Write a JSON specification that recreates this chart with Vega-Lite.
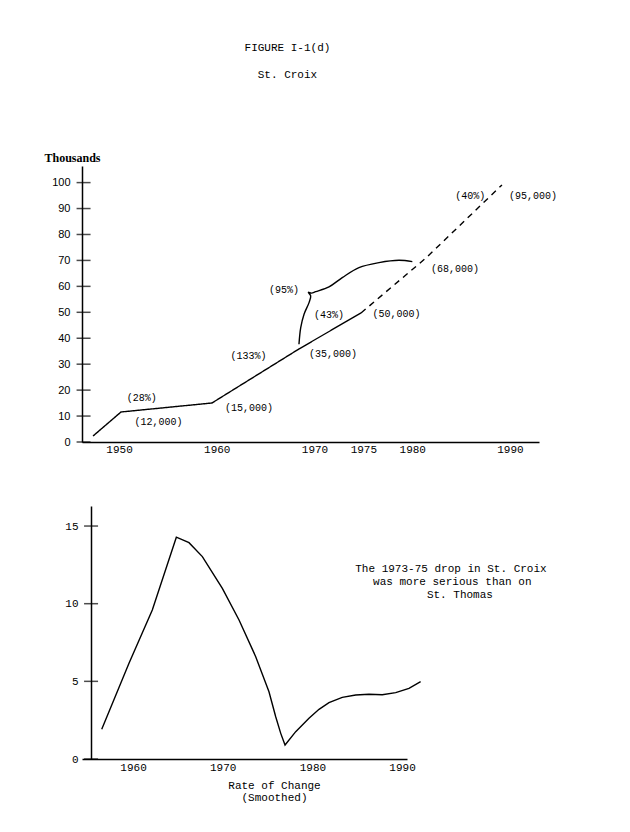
{
  "$schema": "https://vega.github.io/schema/vega-lite/v6.json",
  "background": "white",
  "padding": {"left": 43, "top": 42, "right": 5, "bottom": 5},
  "spacing": 52,
  "config": {"view": {"stroke": null}, "font": "Liberation Mono"},
  "title": {"text": "FIGURE I-1(d)", "subtitle": "St. Croix", "anchor": "middle", "font": "Liberation Mono", "fontSize": 11, "fontWeight": "normal", "color": "black", "subtitleFont": "Liberation Mono", "subtitleFontSize": 11, "subtitleColor": "black", "subtitlePadding": 16, "offset": 71, "dx": -13},
  "datasets": {
    "pop": [
      {"year": 1947.34, "value": 2.31, "seg": "solid"},
      {"year": 1950.2, "value": 11.57, "seg": "solid"},
      {"year": 1959.51, "value": 15.04, "seg": "solid"},
      {"year": 1968.41, "value": 35.87, "seg": "solid"},
      {"year": 1974.76, "value": 49.75, "seg": "solid"},
      {"year": 1974.76, "value": 49.75, "seg": "dashed"},
      {"year": 1981.41, "value": 70.96, "seg": "dashed"},
      {"year": 1989.18, "value": 99.11, "seg": "dashed"}
    ],
    "bracket": [
      {"order": 1, "year": 1968.41, "value": 37.68},
      {"order": 2, "year": 1968.59, "value": 44.08},
      {"order": 3, "year": 1968.93, "value": 49.25},
      {"order": 4, "year": 1969.44, "value": 53.72},
      {"order": 5, "year": 1969.61, "value": 56.31},
      {"order": 6, "year": 1969.37, "value": 57.7},
      {"order": 7, "year": 1969.7, "value": 57.4},
      {"order": 8, "year": 1970.12, "value": 57.96},
      {"order": 9, "year": 1971.48, "value": 59.78},
      {"order": 10, "year": 1972.84, "value": 63.36},
      {"order": 11, "year": 1974.55, "value": 67.22},
      {"order": 12, "year": 1976.6, "value": 69.15},
      {"order": 13, "year": 1978.64, "value": 70.07},
      {"order": 14, "year": 1980.01, "value": 69.53}
    ],
    "topLabels": [
      {"year": 1952.32, "value": 17.08, "label": "(28%)"},
      {"year": 1954.04, "value": 7.71, "label": "(12,000)"},
      {"year": 1963.3, "value": 13.23, "label": "(15,000)"},
      {"year": 1963.25, "value": 33.17, "label": "(133%)"},
      {"year": 1966.88, "value": 58.5, "label": "(95%)"},
      {"year": 1971.89, "value": 33.82, "label": "(35,000)"},
      {"year": 1971.48, "value": 48.98, "label": "(43%)"},
      {"year": 1978.39, "value": 49.25, "label": "(50,000)"},
      {"year": 1984.37, "value": 66.83, "label": "(68,000)"},
      {"year": 1985.94, "value": 94.87, "label": "(40%)"},
      {"year": 1992.35, "value": 94.87, "label": "(95,000)"}
    ],
    "topTicks": [{"v": 0}, {"v": 10}, {"v": 20}, {"v": 30}, {"v": 40}, {"v": 50}, {"v": 60}, {"v": 70}, {"v": 80}, {"v": 90}, {"v": 100}],
    "rate": [
      {"year": 1956.51, "value": 1.91},
      {"year": 1959.55, "value": 6.16},
      {"year": 1962.15, "value": 9.59},
      {"year": 1964.83, "value": 14.28},
      {"year": 1966.24, "value": 13.93},
      {"year": 1967.73, "value": 13.03},
      {"year": 1969.96, "value": 10.99},
      {"year": 1971.82, "value": 8.95},
      {"year": 1973.68, "value": 6.59},
      {"year": 1975.16, "value": 4.33},
      {"year": 1975.91, "value": 2.72},
      {"year": 1976.47, "value": 1.65},
      {"year": 1976.95, "value": 0.9},
      {"year": 1978.14, "value": 1.76},
      {"year": 1979.62, "value": 2.62},
      {"year": 1980.74, "value": 3.2},
      {"year": 1981.85, "value": 3.63},
      {"year": 1983.33, "value": 3.97},
      {"year": 1984.83, "value": 4.12},
      {"year": 1986.31, "value": 4.17},
      {"year": 1987.79, "value": 4.14},
      {"year": 1989.29, "value": 4.27},
      {"year": 1990.77, "value": 4.55},
      {"year": 1992.07, "value": 4.98}
    ],
    "botLabels": [
      {"year": 1995.45, "value": 12.23, "label": "The 1973-75 drop in St. Croix"},
      {"year": 1995.6, "value": 11.4, "label": "was more serious than on"},
      {"year": 1996.45, "value": 10.56, "label": "St. Thomas"}
    ],
    "botTicks": [{"v": 0}, {"v": 5}, {"v": 10}, {"v": 15}]
  },
  "vconcat": [
    {
      "width": 457,
      "height": 276,
      "resolve": {"axis": {"x": "independent", "y": "independent"}},
      "layer": [
        {
          "data": {"name": "pop"},
          "mark": {"type": "line", "color": "black", "strokeWidth": 1.4},
          "encoding": {
            "x": {"field": "year", "type": "quantitative", "scale": {"domain": [1946.21, 1992.97], "nice": false, "zero": false},
              "axis": {"values": [1950, 1960, 1970, 1975, 1980, 1990], "format": "d", "ticks": false, "grid": false, "domainColor": "black", "domainWidth": 1.5, "labelFont": "Liberation Mono", "labelFontSize": 11, "labelColor": "black", "labelPadding": 1, "labelOverlap": false, "title": null}},
            "y": {"field": "value", "type": "quantitative", "scale": {"domain": [0, 106.4], "nice": false, "zero": false},
              "axis": {"values": [0, 10, 20, 30, 40, 50, 60, 70, 80, 90, 100], "ticks": false, "grid": false, "domainColor": "black", "domainWidth": 1.5, "labelFont": "Liberation Sans", "labelFontSize": 11, "labelColor": "black", "labelPadding": 12, "labelOverlap": false,
                "title": "Thousands", "titleAngle": 0, "titleX": -10, "titleY": -9, "titleAlign": "center", "titleBaseline": "middle", "titleFont": "Liberation Serif", "titleFontSize": 12, "titleFontWeight": "bold", "titleColor": "black"}},
            "strokeDash": {"field": "seg", "type": "nominal", "scale": {"domain": ["solid", "dashed"], "range": [[1, 0], [6, 5]]}, "legend": null}
          }
        },
        {
          "data": {"name": "topTicks"},
          "mark": {"type": "tick", "orient": "horizontal", "color": "black", "size": 14, "thickness": 1.5},
          "encoding": {
            "y": {"field": "v", "type": "quantitative", "axis": null},
            "x": {"datum": 1946.37, "type": "quantitative", "axis": null}
          }
        },
        {
          "data": {"name": "bracket"},
          "mark": {"type": "line", "color": "black", "strokeWidth": 1.4, "interpolate": "catmull-rom"},
          "encoding": {
            "x": {"field": "year", "type": "quantitative", "axis": null},
            "y": {"field": "value", "type": "quantitative", "axis": null},
            "order": {"field": "order", "type": "quantitative"}
          }
        },
        {
          "data": {"name": "topLabels"},
          "mark": {"type": "text", "font": "Liberation Mono", "fontSize": 10, "color": "black", "align": "center", "baseline": "middle"},
          "encoding": {
            "x": {"field": "year", "type": "quantitative", "axis": null},
            "y": {"field": "value", "type": "quantitative", "axis": null},
            "text": {"field": "label"}
          }
        }
      ]
    },
    {
      "width": 325,
      "height": 253,
      "resolve": {"axis": {"x": "independent", "y": "independent"}},
      "layer": [
        {
          "data": {"name": "rate"},
          "mark": {"type": "line", "color": "black", "strokeWidth": 1.4},
          "encoding": {
            "x": {"field": "year", "type": "quantitative", "scale": {"domain": [1954.31, 1990.55], "nice": false, "zero": false},
              "axis": {"values": [1960, 1970, 1980, 1990], "format": "d", "ticks": false, "grid": false, "domainColor": "black", "domainWidth": 1.5, "labelFont": "Liberation Mono", "labelFontSize": 11, "labelColor": "black", "labelPadding": 2, "labelOverlap": false,
                "title": ["Rate of Change", "(Smoothed)"], "titleX": 192, "titleY": 20, "titleAlign": "center", "titleBaseline": "top", "titleLineHeight": 12.5, "titleFont": "Liberation Mono", "titleFontSize": 11, "titleFontWeight": "normal", "titleColor": "black"}},
            "y": {"field": "value", "type": "quantitative", "scale": {"domain": [0, 16.29], "nice": false, "zero": false},
              "axis": {"values": [0, 5, 10, 15], "offset": -9, "ticks": false, "grid": false, "domainColor": "black", "domainWidth": 1.5, "labelFont": "Liberation Mono", "labelFontSize": 11, "labelColor": "black", "labelPadding": 13, "labelOverlap": false, "title": null}}
          }
        },
        {
          "data": {"name": "botTicks"},
          "mark": {"type": "tick", "orient": "horizontal", "color": "black", "size": 14, "thickness": 1.5},
          "encoding": {
            "y": {"field": "v", "type": "quantitative", "axis": null},
            "x": {"datum": 1955.32, "type": "quantitative", "axis": null}
          }
        },
        {
          "data": {"name": "botLabels"},
          "mark": {"type": "text", "font": "Liberation Mono", "fontSize": 11, "color": "black", "align": "center", "baseline": "middle"},
          "encoding": {
            "x": {"field": "year", "type": "quantitative", "axis": null},
            "y": {"field": "value", "type": "quantitative", "axis": null},
            "text": {"field": "label"}
          }
        }
      ]
    }
  ]
}
